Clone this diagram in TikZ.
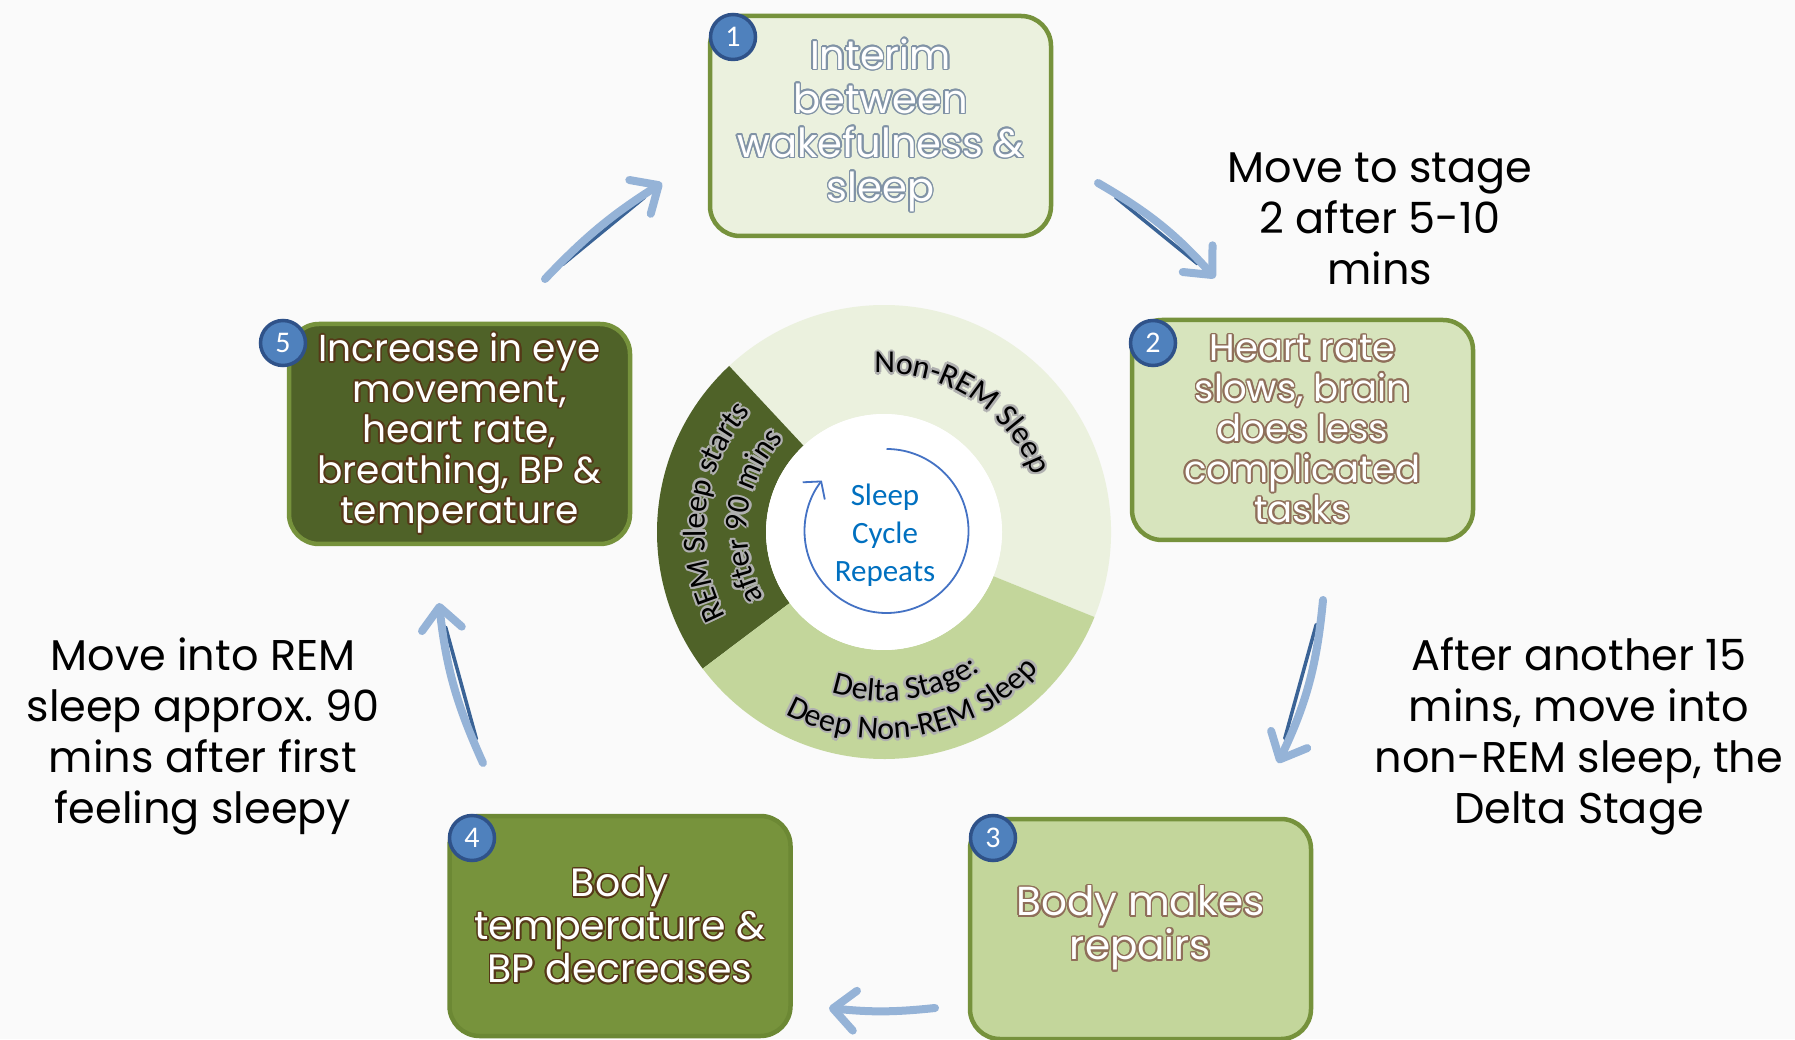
\documentclass[tikz,border=0pt]{standalone}
\usepackage{fontspec}
\setmainfont{Poppins}
\newfontfamily\carl{Carlito}
\usepackage[copies]{contour}
\contourlength{1.6pt}
\contournumber{16}
\usetikzlibrary{arrows.meta,calc,decorations.text}
\frenchspacing
\definecolor{bgc}{HTML}{FAFAFA}
\definecolor{olive}{HTML}{76923C}
\definecolor{fa}{HTML}{EBF1DE}
\definecolor{fb}{HTML}{D7E4BD}
\definecolor{fc}{HTML}{C3D69B}
\definecolor{fd}{HTML}{77933C}
\definecolor{fe}{HTML}{4F6228}
\definecolor{bd}{HTML}{6C8834}
\definecolor{ga}{HTML}{8193A6}
\definecolor{gb}{HTML}{8F6F5A}
\definecolor{gd}{HTML}{553818}
\definecolor{numfill}{HTML}{4F81BD}
\definecolor{numdraw}{HTML}{2F5289}
\definecolor{arrl}{HTML}{95B3D7}
\definecolor{arrd}{HTML}{3A6396}
\definecolor{cyc}{HTML}{0070C0}
\definecolor{cycarrow}{HTML}{4472C4}
\definecolor{rglow}{HTML}{B0B0B0}
\newcommand\gw[2]{\contour{#1}{#2}}
\newcommand\ringlabel[4]{%
  \foreach \dx/\dy in {2.2/0,-2.2/0,0/2.2,0/-2.2,1.6/1.6,-1.6/1.6,1.6/-1.6,-1.6/-1.6}{
    \path[decorate, decoration={text along path, text color=rglow, text align=center,
      text={|\carl\fontsize{32}{32}\selectfont|#1}}]
      ($(rc)+(\dx,\dy)+(#2:#4)$) arc[start angle=#2, end angle=#3, radius=#4];
  }
  \path[decorate, decoration={text along path, text color=black, text align=center,
      text={|\carl\fontsize{32}{32}\selectfont|#1}}]
      ($(rc)+(#2:#4)$) arc[start angle=#2, end angle=#3, radius=#4];
}
\tikzset{
  stagebox/.style={rounded corners=30pt, line width=4.5pt, minimum width=341pt,
    minimum height=220pt, align=center, text=white, draw=olive, inner sep=0pt},
  numdot/.style={circle, fill=numfill, draw=numdraw, line width=3.5pt, minimum size=45pt,
    inner sep=0pt, text=white, font=\carl\fontsize{30}{30}\selectfont},
  note/.style={align=center, font=\fontsize{43}{51}\selectfont, text=black},
  flow/.style={line width=8pt, draw=arrl, line cap=round,
    -{Straight Barb[length=22pt,width=40pt,round]}},
  flowdark/.style={line width=3.5pt, draw=arrd, line cap=round},
}
\begin{document}
\begin{tikzpicture}[x=1pt,y=1pt]
\fill[bgc] (0,0) rectangle (1795,1039);
\useasboundingbox (0,0) rectangle (1795,1039);

% central ring
\coordinate (rc) at (884,507);
\fill[fa] ($(rc)+(-22:227)$) arc[start angle=-22,end angle=133,radius=227]
  -- ($(rc)+(133:118)$) arc[start angle=133,end angle=-22,radius=118] -- cycle;
\fill[fe] ($(rc)+(133:227)$) arc[start angle=133,end angle=217,radius=227]
  -- ($(rc)+(217:118)$) arc[start angle=217,end angle=133,radius=118] -- cycle;
\fill[fc] ($(rc)+(217:227)$) arc[start angle=217,end angle=338,radius=227]
  -- ($(rc)+(338:118)$) arc[start angle=338,end angle=217,radius=118] -- cycle;
\fill[white] (rc) circle[radius=118];

\ringlabel{Non-REM Sleep}{105}{9}{159}
\ringlabel{Delta Stage:}{-131}{-32}{169}
\ringlabel{Deep Non-REM Sleep}{-130}{-30}{207}
\ringlabel{REM Sleep starts}{220}{126}{179}
\ringlabel{after 90 mins}{220}{126}{137}

\coordinate (cc) at (886.5,508);
\draw[cycarrow, line width=1.8pt, -{Straight Barb[length=12pt,width=28pt]}]
  ($(cc)+(90:82)$) arc[start angle=90, end angle=-218, radius=82];
\node[align=center, text=cyc, font=\carl\fontsize{31}{38}\selectfont] (cycle) at (885,504)
  {Sleep\\Cycle\\Repeats};

% stage boxes
\node[stagebox, fill=fa, font=\fontsize{40}{44}\selectfont] (s1) at (880.5,913)
  {\gw{ga}{Interim}\\\gw{ga}{between}\\\gw{ga}{wakefulness \&}\\\gw{ga}{sleep}};
\node[stagebox, fill=fb, font=\fontsize{37}{40.5}\selectfont] (s2) at (1302.5,609)
  {\gw{gb}{Heart rate}\\\gw{gb}{slows, brain}\\\gw{gb}{does less}\\\gw{gb}{complicated}\\\gw{gb}{tasks}};
\node[stagebox, fill=fc, font=\fontsize{40.5}{44}\selectfont] (s3) at (1140.5,110)
  {\gw{gb}{Body makes}\\\gw{gb}{repairs}};
\node[stagebox, fill=fd, draw=bd, font=\fontsize{39.5}{43}\selectfont] (s4) at (620,113)
  {\gw{gd}{Body}\\\gw{gd}{temperature \&}\\\gw{gd}{BP decreases}};
\node[stagebox, fill=fe, font=\fontsize{37.5}{40.5}\selectfont] (s5) at (459.5,605)
  {\gw{gd}{Increase in eye}\\\gw{gd}{movement,}\\\gw{gd}{heart rate,}\\\gw{gd}{breathing, BP \&}\\\gw{gd}{temperature}};

\node[numdot] (n1) at (733,1002) {1};
\node[numdot] (n2) at (1153,696) {2};
\node[numdot] (n3) at (993,201) {3};
\node[numdot] (n4) at (472,201) {4};
\node[numdot] (n5) at (283,696) {5};

% notes
\node[note] (t12) at (1380,820) {Move to stage\\2 after 5-10\\mins};
\node[note] (t23) at (1579,302.5) {After another 15\\mins, move into\\non-REM sleep, the\\Delta Stage};
\node[note] (t45) at (203,302.5) {Move into REM\\sleep approx.\ 90\\mins after first\\feeling sleepy};

% flow arrows
\coordinate (a1s) at (545,760);  \coordinate (a1e) at (662,856);
\coordinate (a2s) at (1098,856); \coordinate (a2e) at (1215,761);
\coordinate (a3s) at (1323,439); \coordinate (a3e) at (1278,276);
\coordinate (a4s) at (935,31);   \coordinate (a4e) at (829,31);
\coordinate (a5s) at (483,276);  \coordinate (a5e) at (439,436);
\draw[flowdark] ($(a1s)!0.15!(a1e)$) -- ($(a1s)!0.85!(a1e)$);
\draw[flowdark] ($(a2s)!0.15!(a2e)$) -- ($(a2s)!0.85!(a2e)$);
\draw[flowdark] ($(a3s)!0.15!(a3e)$) -- ($(a3s)!0.85!(a3e)$);
\draw[flowdark] ($(a5s)!0.15!(a5e)$) -- ($(a5s)!0.85!(a5e)$);
\draw[flow] (a1s) to[bend left=7] (a1e);
\draw[flow] (a2s) to[bend left=9] (a2e);
\draw[flow] (a3s) to[bend left=10] (a3e);
\draw[flow] (a4s) to[bend left=6] (a4e);
\draw[flow] (a5s) to[bend left=9] (a5e);
\end{tikzpicture}
\end{document}
